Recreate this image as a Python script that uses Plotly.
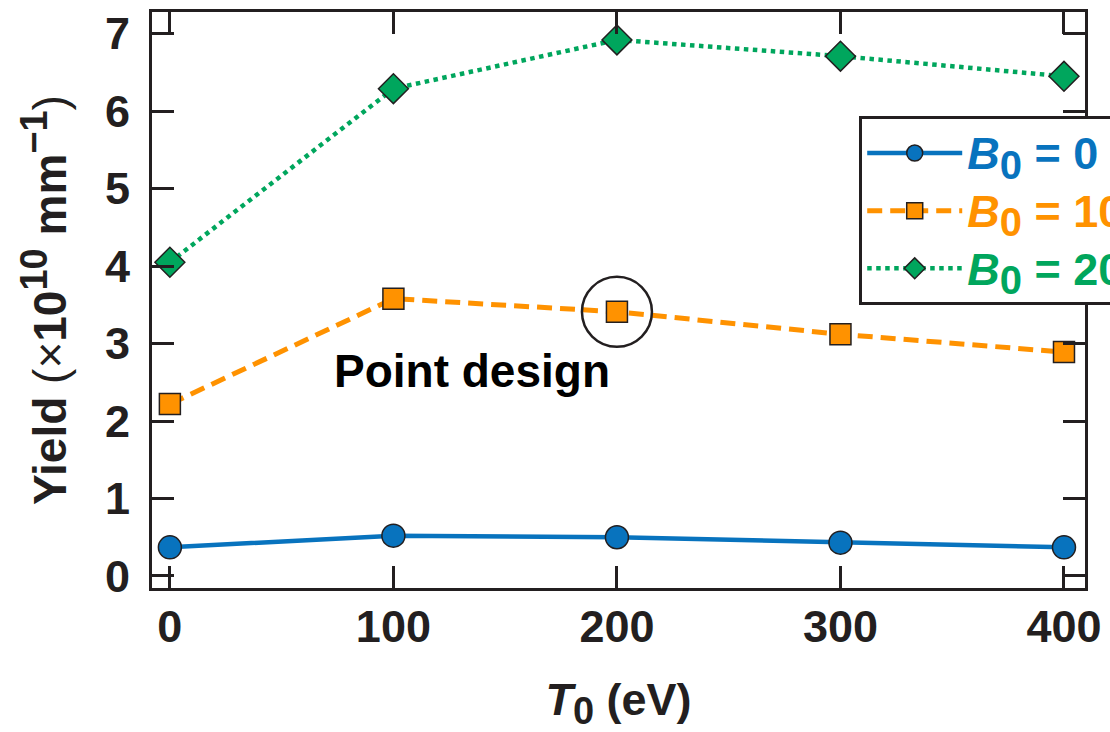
import plotly.graph_objects as go

# Initial temperature T0 (eV)
t0 = [0, 100, 200, 300, 400]

# Yield (x10^10 mm^-1) for each applied field
yield_b0 = [0.37, 0.52, 0.50, 0.43, 0.37]
yield_b10 = [2.22, 3.58, 3.41, 3.12, 2.89]
yield_b20 = [4.05, 6.29, 6.92, 6.71, 6.45]

names = ["= 0", "= 10 T", "= 20 T"]
colors = ["#0873BE", "#FF9200", "#00A65D"]

# Highlighted design point
design_t0 = 200
design_yield = yield_b10[2]

FONT = "Liberation Sans, Arial, sans-serif"
INK = "#231F20"

fig = go.Figure()

series = [
    (yield_b0, "circle", 23, dict(width=4.5, dash="solid")),
    (yield_b10, "square", 21, dict(width=5, dash="15px,8px")),
    (yield_b20, "diamond", 23, dict(width=4.5, dash="dot")),
]
for (ys, sym, size, line), name, color in zip(series, names, colors):
    fig.add_trace(go.Scatter(
        x=t0, y=ys, mode="lines+markers",
        name=(f"<span style='color:{color};font-size:45px'><i>B</i>"
              f"<sub><span style='font-size:40px'>0</span></sub> {name}</span>"),
        line=dict(color=color, **line),
        marker=dict(symbol=sym, size=size, color=color,
                    line=dict(color=INK, width=1.5)),
    ))

# Ring around the design point
fig.add_trace(go.Scatter(
    x=[design_t0], y=[design_yield], mode="markers", showlegend=False,
    marker=dict(symbol="circle-open", size=70, color=INK,
                line=dict(color=INK, width=2.5)),
    hoverinfo="skip",
))

fig.add_annotation(
    x=135, y=2.64, text="Point design", showarrow=False,
    font=dict(family=FONT, size=46, color="#000", weight="bold"),
)

axis_common = dict(
    showgrid=False, zeroline=False, mirror="ticks",
    ticks="inside", ticklen=22, tickwidth=2.5, tickcolor=INK,
    showline=True, linecolor=INK, linewidth=3,
    tickfont=dict(family=FONT, size=45, color=INK, weight="bold"),
)

fig.update_xaxes(
    range=[-8, 409.4], tickvals=t0, ticktext=[str(v) for v in t0],
    title=dict(text="<i>T</i><sub><span style='font-size:38px'>0</span></sub> (eV)",
               standoff=36,
               font=dict(family=FONT, size=45, color=INK, weight="bold")),
    ticklabelstandoff=-3,
    **axis_common,
)
fig.update_yaxes(
    range=[-0.155, 7.28], tickvals=list(range(8)),
    title=dict(text=("Yield <span style='font-weight:normal'>(×</span>10"
                     "<sup><span style='font-size:38px'>10</span></sup> mm"
                     "<sup><span style='font-size:38px'>−1</span></sup>"
                     "<span style='font-weight:normal'>)</span>"),
               standoff=24,
               font=dict(family=FONT, size=46, color=INK, weight="bold")),
    ticklabelstandoff=10,
    **axis_common,
)

fig.update_layout(
    width=1110, height=732,
    margin=dict(l=152, r=25, t=12, b=144, autoexpand=False),
    plot_bgcolor="white", paper_bgcolor="white",
    font=dict(family=FONT, size=45, color=INK, weight="bold"),
    legend=dict(
        x=0.758, y=0.819, xanchor="left", yanchor="top",
        bgcolor="white", bordercolor=INK, borderwidth=3,
        font=dict(family=FONT, size=42, weight="bold"),
        itemwidth=95, tracegroupgap=0,
    ),
)

fig.write_html("out.html")
